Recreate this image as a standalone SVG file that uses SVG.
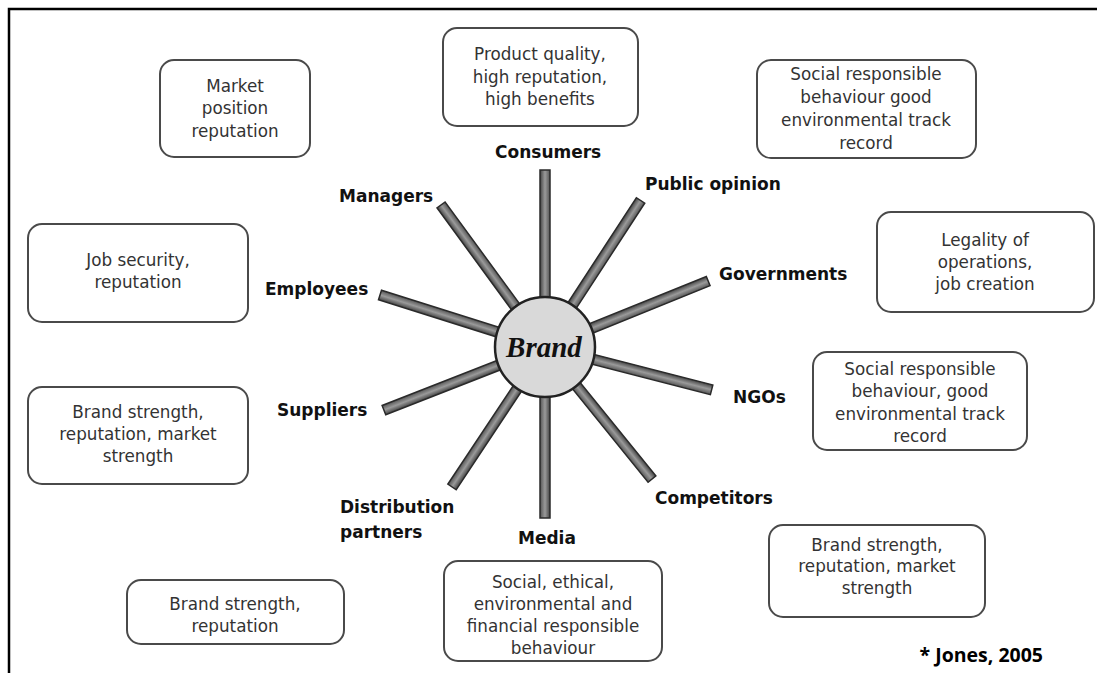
<svg xmlns="http://www.w3.org/2000/svg" width="1097" height="673" viewBox="0 0 1097 673">
<defs>
<linearGradient id="tube" x1="0" y1="0" x2="0" y2="1">
<stop offset="0" stop-color="#444"/>
<stop offset="0.5" stop-color="#9a9a9a"/>
<stop offset="1" stop-color="#555"/>
</linearGradient>
</defs>
<style>
.box{fill:#fff;stroke:#4a4a4a;stroke-width:2}
.bt{font-family:"DejaVu Sans",sans-serif;font-size:16.8px;fill:#333;text-anchor:middle}
.lb{font-family:"DejaVu Sans",sans-serif;font-weight:bold;font-size:17px;fill:#111}
.sp{fill:url(#tube);stroke:#2a2a2a;stroke-width:1.5}
</style>
<rect x="0" y="0" width="1097" height="673" fill="#fff"/>
<path d="M9,673 V9 H1097" fill="none" stroke="#000" stroke-width="2.5"/>

<g id="connectors">
<g transform="translate(545,347)">
<rect class="sp" x="40" y="-5" width="137" height="10" transform="rotate(-90)"/>
<rect class="sp" x="40" y="-5" width="136" height="10" transform="rotate(-126.2)"/>
<rect class="sp" x="40" y="-5" width="135" height="10" transform="rotate(-56.9)"/>
<rect class="sp" x="40" y="-5" width="136" height="10" transform="rotate(-22)"/>
<rect class="sp" x="40" y="-5" width="133" height="10" transform="rotate(-162.5)"/>
<rect class="sp" x="40" y="-5" width="133" height="10" transform="rotate(158.6)"/>
<rect class="sp" x="40" y="-5" width="132" height="10" transform="rotate(14.4)"/>
<rect class="sp" x="40" y="-5" width="128" height="10" transform="rotate(123.6)"/>
<rect class="sp" x="40" y="-5" width="131" height="10" transform="rotate(90)"/>
<rect class="sp" x="40" y="-5" width="130" height="10" transform="rotate(51)"/>
</g>
</g>

<g id="brand">
<circle cx="545" cy="347" r="50" fill="#d9d9d9" stroke="#222" stroke-width="2.5"/>
<text x="544" y="357" font-family="Liberation Serif,serif" font-style="italic" font-weight="bold" font-size="29" fill="#111" text-anchor="middle">Brand</text>
</g>

<g id="labels">
<text class="lb" x="495" y="158">Consumers</text>
<text class="lb" x="339" y="202">Managers</text>
<text class="lb" x="645" y="190">Public opinion</text>
<text class="lb" x="719" y="280">Governments</text>
<text class="lb" x="265" y="295">Employees</text>
<text class="lb" x="733" y="403">NGOs</text>
<text class="lb" x="277" y="416">Suppliers</text>
<text class="lb" x="655" y="504">Competitors</text>
<text class="lb" x="340" y="513">Distribution</text>
<text class="lb" x="340" y="538">partners</text>
<text class="lb" x="518" y="544">Media</text>
</g>

<g id="n-market">
<rect class="box" x="160" y="60" width="150" height="97" rx="14"/>
<text class="bt" x="235" y="92">Market</text>
<text class="bt" x="235" y="114">position</text>
<text class="bt" x="235" y="137">reputation</text>
</g>
<g id="n-product">
<rect class="box" x="443" y="28" width="195" height="98" rx="14"/>
<text class="bt" x="540" y="60">Product quality,</text>
<text class="bt" x="540" y="83">high reputation,</text>
<text class="bt" x="540" y="105">high benefits</text>
</g>
<g id="n-social1">
<rect class="box" x="757" y="60" width="219" height="98" rx="14"/>
<text class="bt" x="866" y="80">Social responsible</text>
<text class="bt" x="866" y="103">behaviour good</text>
<text class="bt" x="866" y="126">environmental track</text>
<text class="bt" x="866" y="149">record</text>
</g>
<g id="n-legality">
<rect class="box" x="877" y="212" width="217" height="100" rx="14"/>
<text class="bt" x="985" y="246">Legality of</text>
<text class="bt" x="985" y="268">operations,</text>
<text class="bt" x="985" y="290">job creation</text>
</g>
<g id="n-social2">
<rect class="box" x="813" y="352" width="214" height="98" rx="14"/>
<text class="bt" x="920" y="375">Social responsible</text>
<text class="bt" x="920" y="397">behaviour, good</text>
<text class="bt" x="920" y="420">environmental track</text>
<text class="bt" x="920" y="442">record</text>
</g>
<g id="n-brandright">
<rect class="box" x="769" y="525" width="216" height="92" rx="14"/>
<text class="bt" x="877" y="551">Brand strength,</text>
<text class="bt" x="877" y="572">reputation, market</text>
<text class="bt" x="877" y="594">strength</text>
</g>
<g id="n-media">
<rect class="box" x="444" y="561" width="218" height="100" rx="14"/>
<text class="bt" x="553" y="588">Social, ethical,</text>
<text class="bt" x="553" y="610">environmental and</text>
<text class="bt" x="553" y="632">financial responsible</text>
<text class="bt" x="553" y="654">behaviour</text>
</g>
<g id="n-brandbottom">
<rect class="box" x="127" y="580" width="217" height="64" rx="14"/>
<text class="bt" x="235" y="610">Brand strength,</text>
<text class="bt" x="235" y="632">reputation</text>
</g>
<g id="n-brandleft">
<rect class="box" x="28" y="387" width="220" height="97" rx="14"/>
<text class="bt" x="138" y="418">Brand strength,</text>
<text class="bt" x="138" y="440">reputation, market</text>
<text class="bt" x="138" y="462">strength</text>
</g>
<g id="n-job">
<rect class="box" x="28" y="224" width="220" height="98" rx="14"/>
<text class="bt" x="138" y="266">Job security,</text>
<text class="bt" x="138" y="288">reputation</text>
</g>

<text x="1043" y="662" font-family="Open Sans,sans-serif" font-weight="bold" font-size="19.5" fill="#000" text-anchor="end">* Jones, 2005</text>
</svg>
